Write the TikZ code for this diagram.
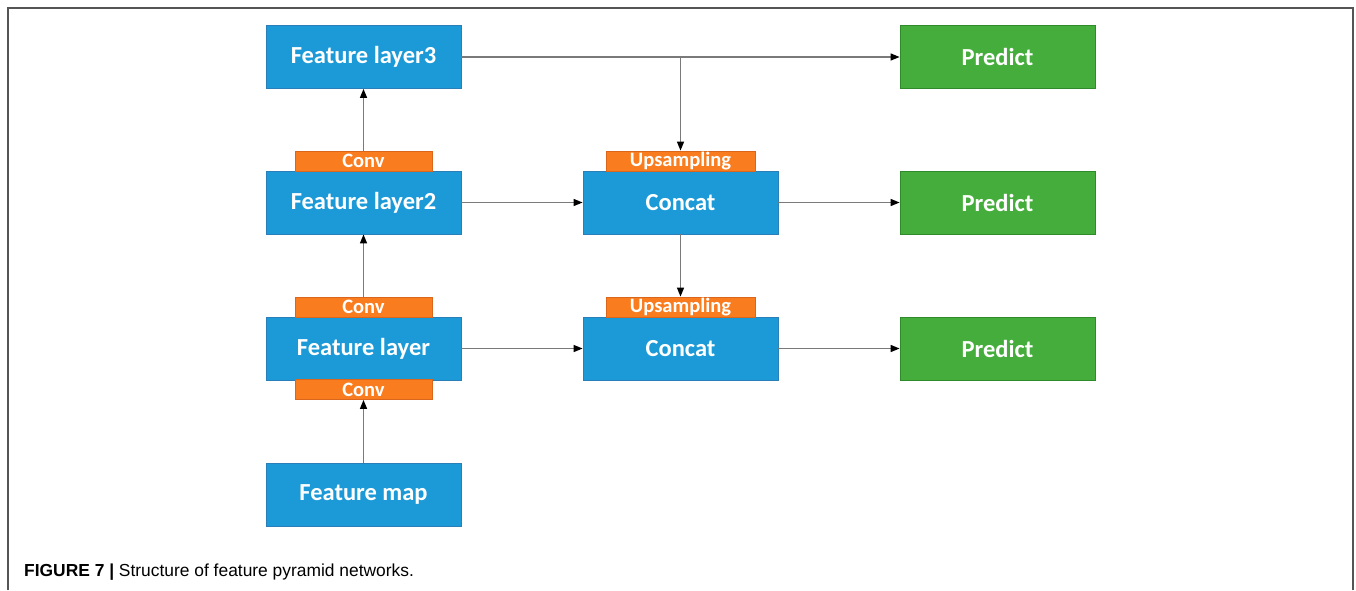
\documentclass[tikz,border=0pt]{standalone}
\usepackage{fontspec}
\setmainfont{Liberation Sans}
\newfontfamily\boxfont{Carlito}
\usetikzlibrary{arrows.meta}
\definecolor{fblue}{HTML}{1B9AD7}
\definecolor{fblueedge}{HTML}{2A7FB8}
\definecolor{forange}{HTML}{F97C1F}
\definecolor{forangeedge}{HTML}{D9661A}
\definecolor{fgreen}{HTML}{45AD3B}
\definecolor{fgreenedge}{HTML}{2F8A2A}
\definecolor{wire}{HTML}{7A7A7A}
\definecolor{framegray}{HTML}{555555}
\tikzset{
  layerbox/.style={draw=fblueedge, line width=0.8pt, fill=fblue, minimum width=195pt, minimum height=63pt,
    inner sep=0pt, text=white, font=\boxfont\bfseries\fontsize{24.5}{28}\selectfont},
  predbox/.style={layerbox, draw=fgreenedge, fill=fgreen},
  opbox/.style={draw=forangeedge, line width=0.8pt, fill=forange, minimum height=20pt, inner sep=0pt,
    text=white, font=\boxfont\bfseries\fontsize{20.5}{20}\selectfont},
  convbox/.style={opbox, minimum width=137pt},
  upbox/.style={opbox, minimum width=149pt},
  link/.style={draw=wire, line width=1.3pt, -{Triangle[length=9pt,width=7pt,fill=black,color=black]}},
  plainlink/.style={draw=wire, line width=1.3pt}
}
\begin{document}
\begin{tikzpicture}[x=1pt,y=-1pt]
  \useasboundingbox (0,0) rectangle (1356,590);
  % open frame around the figure
  \draw[framegray, line width=1.5pt] (8,590) -- (8,8) -- (1353,8) -- (1353,590);

  % left column: backbone features
  \node[layerbox] (fl3) at (363.5,57) {Feature layer3};
  \node[layerbox] (fl2) at (363.5,202.5) {Feature layer2};
  \node[layerbox] (fl1) at (363.5,348.5) {Feature layer};
  \node[layerbox] (fmap) at (363.5,494.5) {Feature map};
  \node[convbox] (conv3) at (363.5,161) {Conv};
  \node[convbox] (conv2) at (363.5,307) {Conv};
  \node[convbox] (conv1) at (363.5,389.5) {Conv};

  % middle column: top-down fusion
  \node[layerbox] (cat2) at (680.5,202.5) {Concat};
  \node[layerbox] (cat1) at (680.5,348.5) {Concat};
  \node[upbox] (up2) at (680.5,161) {Upsampling};
  \node[upbox] (up1) at (680.5,307) {Upsampling};

  % right column: prediction heads
  \node[predbox] (p3) at (997.5,57) {Predict};
  \node[predbox] (p2) at (997.5,202.5) {Predict};
  \node[predbox] (p1) at (997.5,348.5) {Predict};

  % bottom-up path
  \draw[link] (fmap.north) -- (conv1.south);
  \draw[link] (conv2.north) -- (fl2.south);
  \draw[link] (conv3.north) -- (fl3.south);

  % lateral and top-down connections
  \coordinate (split) at (up2.north |- fl3.east);
  \draw[link] (fl3.east) -- (p3.west);
  \draw[link] (split) -- (up2.north);
  \draw[link] (fl2.east) -- (cat2.west);
  \draw[link] (cat2.east) -- (p2.west);
  \draw[link] (cat2.south) -- (up1.north);
  \draw[link] (fl1.east) -- (cat1.west);
  \draw[link] (cat1.east) -- (p1.west);

  % caption
  \node[anchor=west, inner sep=0pt, font=\fontsize{17.4}{20}\selectfont] (cap) at (24,572)
    {\textbf{FIGURE 7 |} Structure of feature pyramid networks.};
\end{tikzpicture}
\end{document}
